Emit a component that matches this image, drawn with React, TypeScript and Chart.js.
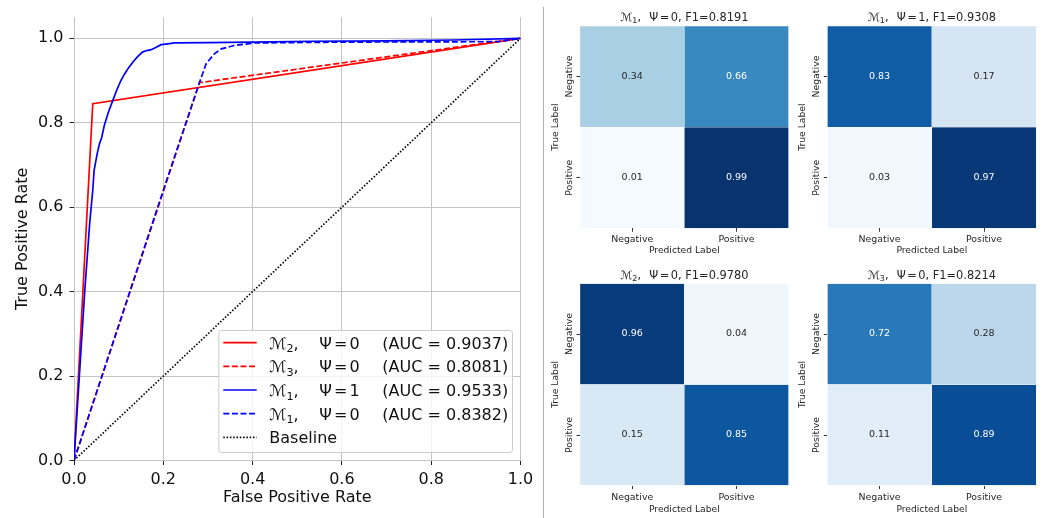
import React, { useEffect, useRef } from 'react';
import { Chart, registerables } from 'chart.js';

Chart.register(...registerables);

const FONT = '"DejaVu Sans", "Liberation Sans", Arial, sans-serif';

// ---------------- ROC data ----------------
const rocTicks = [0, 0.2, 0.4, 0.6, 0.8, 1.0];

const m2Psi0Fpr = [0, 0.042, 1];
const m2Psi0Tpr = [0, 0.845, 1];

const m3Psi0Fpr = [0, 0.281, 1];
const m3Psi0Tpr = [0, 0.895, 1];

const m1Psi1Fpr = [0, 0.012, 0.024, 0.035, 0.042, 0.045, 0.052, 0.057, 0.062, 0.068, 0.077, 0.087, 0.096, 0.105, 0.113, 0.122, 0.132, 0.143, 0.154, 0.163, 0.173, 0.184, 0.195, 0.21, 0.225, 0.3, 0.4, 0.53, 0.7, 0.85, 1];
const m1Psi1Tpr = [0, 0.2, 0.4, 0.56, 0.64, 0.687, 0.727, 0.75, 0.765, 0.794, 0.825, 0.853, 0.878, 0.9, 0.915, 0.93, 0.944, 0.957, 0.968, 0.971, 0.973, 0.979, 0.985, 0.987, 0.989, 0.99, 0.991, 0.993, 0.994, 0.996, 1];

const m1Psi0Fpr = [0, 0.2025, 0.281, 0.296, 0.315, 0.33, 0.359, 0.404, 0.6, 0.95, 1];
const m1Psi0Tpr = [0, 0.648, 0.895, 0.94, 0.964, 0.975, 0.983, 0.989, 0.991, 0.992, 1];

const baselineFpr = [0, 1];
const baselineTpr = [0, 1];

const legendSubs = ['2', '3', '1', '1'];
const legendPsi = [0, 0, 1, 0];
const legendAuc = [0.9037, 0.8081, 0.9533, 0.8382];

// ---------------- Confusion matrices ----------------
const cmClassLabels = ['Negative', 'Positive'];
const cmM1Psi0 = [[0.34, 0.66], [0.01, 0.99]];
const cmM1Psi1 = [[0.83, 0.17], [0.03, 0.97]];
const cmM2Psi0 = [[0.96, 0.04], [0.15, 0.85]];
const cmM3Psi0 = [[0.72, 0.28], [0.11, 0.89]];
const cmModelSubs = ['1', '1', '2', '3'];
const cmPsi = [0, 1, 0, 0];
const cmF1 = ['0.8191', '0.9308', '0.9780', '0.8214'];
const cmRange = [0, 1];

// ---------------- helpers ----------------
const BLUES = ['#f7fbff', '#deebf7', '#c6dbef', '#9ecae1', '#6baed6', '#4292c6', '#2171b5', '#08519c', '#08306b'];
function hexToRgb(h: string) {
  return [parseInt(h.slice(1, 3), 16), parseInt(h.slice(3, 5), 16), parseInt(h.slice(5, 7), 16)];
}
function blues(t: number) {
  const tt = Math.max(0, Math.min(1, t));
  const pos = tt * (BLUES.length - 1);
  const i = Math.min(BLUES.length - 2, Math.floor(pos));
  const f = pos - i;
  const a = hexToRgb(BLUES[i]);
  const b = hexToRgb(BLUES[i + 1]);
  return [0, 1, 2].map((k) => a[k] + (b[k] - a[k]) * f);
}
function relLum(rgb: number[]) {
  const c = rgb.map((v) => {
    const x = v / 255;
    return x <= 0.03928 ? x / 12.92 : Math.pow((x + 0.055) / 1.055, 2.4);
  });
  return 0.2126 * c[0] + 0.7152 * c[1] + 0.0722 * c[2];
}
const rgbStr = (c: number[]) => `rgb(${Math.round(c[0])},${Math.round(c[1])},${Math.round(c[2])})`;

type Run = { t: string; size: number; dy?: number; gap?: number };
function measureRuns(ctx: CanvasRenderingContext2D, runs: Run[]) {
  let w = 0;
  for (const r of runs) {
    ctx.font = `${r.size}px ${FONT}`;
    w += (r.gap || 0) + ctx.measureText(r.t).width;
  }
  return w;
}
function drawRuns(ctx: CanvasRenderingContext2D, runs: Run[], x: number, y: number, align: 'left' | 'center', color: string) {
  let cx = align === 'center' ? x - measureRuns(ctx, runs) / 2 : x;
  ctx.save();
  ctx.fillStyle = color;
  ctx.textBaseline = 'alphabetic';
  ctx.textAlign = 'left';
  for (const r of runs) {
    cx += r.gap || 0;
    ctx.font = `${r.size}px ${FONT}`;
    ctx.fillText(r.t, cx, y + (r.dy || 0));
    cx += ctx.measureText(r.t).width;
  }
  ctx.restore();
}
const modelRuns = (sub: string, size: number): Run[] => [
  { t: '\u2133', size },
  { t: sub, size: size * 0.7, dy: size * 0.22 },
  { t: ',', size },
];
const psiRuns = (psi: number, size: number, gap0: number): Run[] => [
  { t: '\u03A8', size, gap: gap0 },
  { t: '=', size, gap: size * 0.13 },
  { t: String(psi), size, gap: size * 0.13 },
];

// ---------------- ROC chart ----------------
function RocChart() {
  const ref = useRef<HTMLCanvasElement | null>(null);
  const W = 540, H = 518;
  useEffect(() => {
    const area = { l: 74, t: 17.2, r: 520.5, b: 460.5 };
    const mk = (fpr: number[], tpr: number[]) => fpr.map((x, i) => ({ x, y: tpr[i] }));
    const common = { showLine: true, pointRadius: 0, pointHoverRadius: 0, borderWidth: 1.7, fill: false, tension: 0 };
    const datasets: any[] = [
      { ...common, label: 'M2 psi0', data: mk(m2Psi0Fpr, m2Psi0Tpr), borderColor: '#ff0000', borderDash: [], order: 5 },
      { ...common, label: 'M3 psi0', data: mk(m3Psi0Fpr, m3Psi0Tpr), borderColor: '#ff0000', borderDash: [6, 2.6], order: 4 },
      { ...common, label: 'M1 psi1', data: mk(m1Psi1Fpr, m1Psi1Tpr), borderColor: '#0000ff', borderDash: [], order: 3 },
      { ...common, label: 'M1 psi0', data: mk(m1Psi0Fpr, m1Psi0Tpr), borderColor: '#0000ff', borderDash: [6, 2.6], order: 2 },
      { ...common, label: 'Baseline', data: mk(baselineFpr, baselineTpr), borderColor: '#000000', borderDash: [1.5, 1.8], order: 1 },
    ];
    const legendPlugin = {
      id: 'rocLegend',
      afterDraw(chart: any) {
        const { ctx, chartArea } = chart;
        const bw = 293.7, bh = 122, inset = 8.5;
        const right = chartArea.right - inset, bottom = chartArea.bottom - inset;
        const left = right - bw, top = bottom - bh;
        ctx.save();
        ctx.beginPath();
        if (ctx.roundRect) ctx.roundRect(left + 0.5, top + 0.5, bw, bh, 3);
        else ctx.rect(left + 0.5, top + 0.5, bw, bh);
        ctx.fillStyle = 'rgba(255,255,255,0.8)';
        ctx.fill();
        ctx.strokeStyle = '#cccccc';
        ctx.lineWidth = 1;
        ctx.stroke();
        const fs = 16;
        chart.data.datasets.forEach((ds: any, i: number) => {
          const cy = top + 12.7 + i * 23.65;
          ctx.beginPath();
          ctx.setLineDash(ds.borderDash || []);
          ctx.strokeStyle = ds.borderColor;
          ctx.lineWidth = ds.borderWidth;
          ctx.moveTo(left + 5, cy);
          ctx.lineTo(left + 38.4, cy);
          ctx.stroke();
          ctx.setLineDash([]);
          const base = cy + 6;
          if (i < legendSubs.length) {
            drawRuns(ctx, modelRuns(legendSubs[i], fs), left + 51, base, 'left', '#111');
            drawRuns(ctx, psiRuns(legendPsi[i], fs, 0), left + 101, base, 'left', '#111');
            drawRuns(ctx, [{ t: `(AUC = ${legendAuc[i].toFixed(4)})`, size: fs }], left + 164, base, 'left', '#111');
          } else {
            drawRuns(ctx, [{ t: ds.label, size: fs }], left + 51, base, 'left', '#111');
          }
        });
        ctx.restore();
      },
    };
    const axisCommon = (ticksPad: number) => ({
      type: 'linear' as const,
      afterBuildTicks: (s: any) => { s.ticks = rocTicks.map((v) => ({ value: v })); },
      grid: { display: true, color: '#c4c4c4', lineWidth: 1, drawTicks: true, tickLength: 4.5, tickColor: '#222', tickWidth: 1 },
      border: { display: false },
      ticks: { font: { family: FONT, size: 16 }, color: '#111', padding: ticksPad, callback: (v: any) => Number(v).toFixed(1), maxRotation: 0, minRotation: 0 },
    });
    const chart = new Chart(ref.current as HTMLCanvasElement, {
      type: 'scatter',
      data: { datasets },
      options: {
        responsive: false,
        animation: false,
        events: [],
        layout: { padding: { left: 0, top: area.t, right: W - area.r, bottom: 0 } },
        plugins: { legend: { display: false }, tooltip: { enabled: false } },
        scales: {
          x: {
            ...axisCommon(5),
            min: 0, max: 1,
            afterFit: (s: any) => { s.height = H - area.b; },
            title: { display: true, text: 'False Positive Rate', color: '#111', font: { family: FONT, size: 16 }, padding: { top: 0, bottom: 11 } },
          },
          y: {
            ...axisCommon(6),
            min: 0, max: 1.05,
            afterFit: (s: any) => { s.width = area.l; },
            title: { display: true, text: 'True Positive Rate', color: '#111', font: { family: FONT, size: 16 }, padding: { top: 13.5, bottom: 0 } },
          },
        },
      } as any,
      plugins: [legendPlugin],
    });
    return () => chart.destroy();
  }, []);
  return <canvas ref={ref} width={W} height={H} style={{ position: 'absolute', left: 0, top: 0 }} />;
}

// ---------------- Heatmap ----------------
type HeatSpec = {
  matrix: number[][];
  sub: string;
  psi: number;
  f1: string;
  area: { l: number; t: number; r: number; b: number };
  canvasTop: number;
  canvasHeight: number;
  tickPad: number;
  titlePadBottom: number;
  titleGap: number;
};

function Heatmap({ spec }: { spec: HeatSpec }) {
  const ref = useRef<HTMLCanvasElement | null>(null);
  const canvasLeft = Math.round(spec.area.l) - 35;
  const canvasWidth = Math.ceil(spec.area.r) + 4 - canvasLeft;
  useEffect(() => {
    const { area, canvasTop, canvasHeight, matrix } = spec;
    const [vmin, vmax] = cmRange;
    const nRows = matrix.length;
    const cellColors = matrix.map((row) => row.map((v) => blues((v - vmin) / (vmax - vmin))));
    const datasets: any[] = matrix.map((row, r) => ({
      label: cmClassLabels[r],
      data: row.map(() => [nRows - r - 1, nRows - r]),
      backgroundColor: cellColors[r].map(rgbStr),
      borderColor: 'rgba(255,255,255,0.45)',
      borderWidth: 0.5,
      borderSkipped: false,
      grouped: false,
      barPercentage: 1,
      categoryPercentage: 1,
    }));
    const deco = {
      id: 'heatDeco',
      afterDatasetsDraw(chart: any) {
        const { ctx, chartArea } = chart;
        ctx.save();
        ctx.textAlign = 'center';
        ctx.textBaseline = 'middle';
        ctx.font = `9.5px ${FONT}`;
        matrix.forEach((row, r) => {
          const meta = chart.getDatasetMeta(r);
          row.forEach((v, c) => {
            const el = meta.data[c];
            ctx.fillStyle = relLum(cellColors[r][c]) > 0.408 ? '#262626' : '#ffffff';
            ctx.fillText(v.toFixed(2), el.x, (el.y + el.base) / 2);
          });
        });
        // rotated y tick labels
        const ys = chart.scales.y;
        ctx.fillStyle = '#262626';
        ctx.font = `9.4px ${FONT}`;
        ys.ticks.forEach((t: any, i: number) => {
          const py = ys.getPixelForValue(t.value);
          ctx.save();
          ctx.translate(chartArea.left - 10.5, py);
          ctx.rotate(-Math.PI / 2);
          ctx.fillText(cmClassLabels[i], 0, 0);
          ctx.restore();
        });
        ctx.restore();
        const fs = 11.4;
        const runs: Run[] = [
          ...modelRuns(spec.sub, fs),
          ...psiRuns(spec.psi, fs, 8.3),
          { t: `, F1=${spec.f1}`, size: fs },
        ];
        drawRuns(ctx, runs, (chartArea.left + chartArea.right) / 2, chartArea.top - spec.titleGap, 'center', '#262626');
      },
    };
    const chart = new Chart(ref.current as HTMLCanvasElement, {
      type: 'bar',
      data: { labels: cmClassLabels, datasets },
      options: {
        responsive: false,
        animation: false,
        events: [],
        layout: { padding: { left: 0, right: canvasLeft + canvasWidth - area.r, top: area.t - canvasTop, bottom: 0 } },
        plugins: { legend: { display: false }, tooltip: { enabled: false } },
        scales: {
          x: {
            type: 'category',
            offset: true,
            afterFit: (s: any) => { s.height = canvasTop + canvasHeight - area.b; },
            grid: { display: true, drawOnChartArea: false, drawTicks: true, tickLength: 3.5, tickColor: '#333', tickWidth: 1, offset: false },
            border: { display: false },
            ticks: { font: { family: FONT, size: 9.4 }, color: '#262626', padding: spec.tickPad, maxRotation: 0, minRotation: 0, autoSkip: false },
            title: { display: true, text: 'Predicted Label', color: '#262626', font: { family: FONT, size: 9.2 }, padding: { top: 0, bottom: spec.titlePadBottom } },
          },
          y: {
            type: 'linear',
            min: 0,
            max: nRows,
            afterBuildTicks: (s: any) => { s.ticks = cmClassLabels.map((_, r) => ({ value: nRows - r - 0.5 })); },
            afterFit: (s: any) => { s.width = area.l - canvasLeft; },
            ticks: { display: false },
            grid: { display: true, drawOnChartArea: false, drawTicks: true, tickLength: 3.5, tickColor: '#333', tickWidth: 1 },
            border: { display: false },
            title: { display: true, text: 'True Label', color: '#262626', font: { family: FONT, size: 9.2 }, padding: { top: 4.6, bottom: 0 } },
          },
        },
      } as any,
      plugins: [deco],
    });
    return () => chart.destroy();
  }, []);
  return (
    <canvas
      ref={ref}
      width={canvasWidth}
      height={spec.canvasHeight}
      style={{ position: 'absolute', left: canvasLeft, top: spec.canvasTop }}
    />
  );
}

const heatSpecs: HeatSpec[] = [
  { matrix: cmM1Psi0, sub: cmModelSubs[0], psi: cmPsi[0], f1: cmF1[0], area: { l: 580, t: 26, r: 788.7, b: 228.3 }, canvasTop: 0, canvasHeight: 258, tickPad: 1.8, titlePadBottom: 1.6, titleGap: 5.3 },
  { matrix: cmM1Psi1, sub: cmModelSubs[1], psi: cmPsi[1], f1: cmF1[1], area: { l: 827.3, t: 26, r: 1036.3, b: 228.3 }, canvasTop: 0, canvasHeight: 258, tickPad: 1.8, titlePadBottom: 1.6, titleGap: 5.3 },
  { matrix: cmM2Psi0, sub: cmModelSubs[2], psi: cmPsi[2], f1: cmF1[2], area: { l: 580, t: 283.5, r: 788.7, b: 485.5 }, canvasTop: 259, canvasHeight: 259, tickPad: 2.6, titlePadBottom: 3.3, titleGap: 4.8 },
  { matrix: cmM3Psi0, sub: cmModelSubs[3], psi: cmPsi[3], f1: cmF1[3], area: { l: 827.3, t: 283.5, r: 1036.3, b: 485.5 }, canvasTop: 259, canvasHeight: 259, tickPad: 2.6, titlePadBottom: 3.3, titleGap: 4.8 },
];

export default function App() {
  return (
    <div style={{ position: 'absolute', left: 0, top: 0, width: 1042, height: 518, background: '#ffffff', overflow: 'hidden' }}>
      <RocChart />
      <div style={{ position: 'absolute', left: 543, top: 7, width: 1, height: 511, background: '#b0b0b0' }} />
      {heatSpecs.map((s, i) => (
        <Heatmap key={i} spec={s} />
      ))}
    </div>
  );
}
